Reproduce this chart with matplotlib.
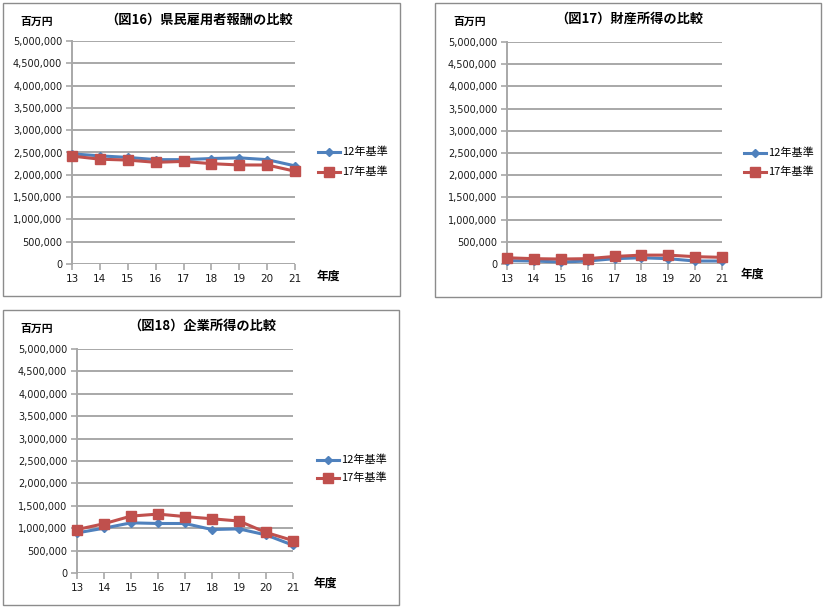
import numpy as np
import matplotlib.pyplot as plt
from matplotlib.patches import Rectangle
from matplotlib.ticker import FuncFormatter

plt.rcParams['font.family'] = ['Noto Sans CJK JP', 'DejaVu Sans']

years = ['13', '14', '15', '16', '17', '18', '19', '20', '21']
legend_labels = ['12年基準', '17年基準']

# (図16) 県民雇用者報酬
emp_12 = [2470000, 2425000, 2390000, 2340000, 2340000, 2365000, 2380000, 2340000, 2200000]
emp_17 = [2420000, 2350000, 2330000, 2280000, 2300000, 2250000, 2220000, 2220000, 2080000]
# (図17) 財産所得
prop_12 = [75000, 67000, 45000, 67000, 120000, 140000, 120000, 67000, 67000]
prop_17 = [140000, 120000, 112000, 120000, 170000, 200000, 200000, 165000, 150000]
# (図18) 企業所得
corp_12 = [895000, 1000000, 1120000, 1105000, 1105000, 970000, 985000, 850000, 620000]
corp_17 = [970000, 1100000, 1270000, 1315000, 1260000, 1210000, 1160000, 905000, 725000]

titles = ['（図16）県民雇用者報酬の比較', '（図17）財産所得の比較', '（図18）企業所得の比較']

W, H = 827, 610
fig = plt.figure(figsize=(W / 100, H / 100), dpi=100)


def box(l, t, r, b):
    return [l / W, 1 - b / H, (r - l) / W, (b - t) / H]


def fx(x):
    return x / W


def fy(y):
    return 1 - y / H


blue = '#4F81BD'
red = '#C0504D'
grid = '#A8A8A8'

panels = [
    dict(frame=(3, 3, 400, 296), area=(72, 41, 295, 264), s12=emp_12, s17=emp_17,
         title=(199, 20), unit=(37, 22), nendo=(328, 276), leg=(318, 152, 172)),
    dict(frame=(435, 3, 821, 297), area=(507, 42, 722, 264), s12=prop_12, s17=prop_17,
         title=(629, 19), unit=(470, 22), nendo=(752, 274), leg=(744, 153, 172)),
    dict(frame=(3, 310, 399, 605), area=(77, 349, 293, 573), s12=corp_12, s17=corp_17,
         title=(202, 326), unit=(37, 329), nendo=(325, 583), leg=(317, 460, 478)),
]

for p, title in zip(panels, titles):
    l, t, r, b = p['frame']
    fig.patches.append(Rectangle((fx(l), fy(b)), (r - l) / W, (b - t) / H,
                                 transform=fig.transFigure, fill=False,
                                 edgecolor='#8C8C8C', linewidth=1))
    ax = fig.add_axes(box(*p['area']))
    x = np.arange(len(years))
    ax.plot(x, p['s12'], color=blue, linewidth=2.2, marker='D', markersize=4.5,
            clip_on=False, zorder=3)
    ax.plot(x, p['s17'], color=red, linewidth=2.2, marker='s', markersize=6.5,
            clip_on=False, zorder=4)
    ax.set_xlim(0, len(years) - 1)
    ax.set_ylim(0, 5000000)
    ax.set_yticks(np.arange(0, 5000001, 500000))
    ax.yaxis.set_major_formatter(FuncFormatter(lambda v, pos: f'{int(v):,}'))
    ax.set_xticks(x)
    ax.set_xticklabels(years)
    ax.grid(axis='y', color=grid, linewidth=1.4)
    ax.set_axisbelow(True)
    for s in ['top', 'right', 'bottom']:
        ax.spines[s].set_visible(False)
    ax.spines['left'].set_color(grid)
    ax.spines['left'].set_linewidth(1.4)
    ax.tick_params(axis='y', length=4, width=1.2, color=grid, labelsize=7, pad=3,
                   labelcolor='#1a1a1a')
    ax.tick_params(axis='x', length=4, width=1.2, color=grid, labelsize=7.5, pad=3,
                   labelcolor='#1a1a1a')
    for lab in ax.get_yticklabels() + ax.get_xticklabels():
        lab.set_family('DejaVu Sans')
    ax.patch.set_alpha(0)

    tx, ty = p['title']
    fig.text(fx(tx), fy(ty), title, ha='center', va='center', fontsize=9.5,
             fontweight='bold')
    ux, uy = p['unit']
    fig.text(fx(ux), fy(uy), '百万円', ha='center', va='center', fontsize=7.8,
             fontweight='bold')
    nx, ny = p['nendo']
    fig.text(fx(nx), fy(ny), '年度', ha='center', va='center', fontsize=8.5,
             fontweight='bold')

    lx, ly1, ly2 = p['leg']
    for yy, col, mk, ms, lab in [(ly1, blue, 'D', 4.5, legend_labels[0]),
                                 (ly2, red, 's', 6.5, legend_labels[1])]:
        fig.add_artist(plt.Line2D([fx(lx), fx(lx + 22)], [fy(yy), fy(yy)],
                                  transform=fig.transFigure, color=col,
                                  linewidth=2.2))
        fig.add_artist(plt.Line2D([fx(lx + 11)], [fy(yy)], transform=fig.transFigure,
                                  color=col, marker=mk, markersize=ms))
        fig.text(fx(lx + 24), fy(yy), lab, ha='left', va='center', fontsize=8)

fig.savefig('out.png', dpi=100)
